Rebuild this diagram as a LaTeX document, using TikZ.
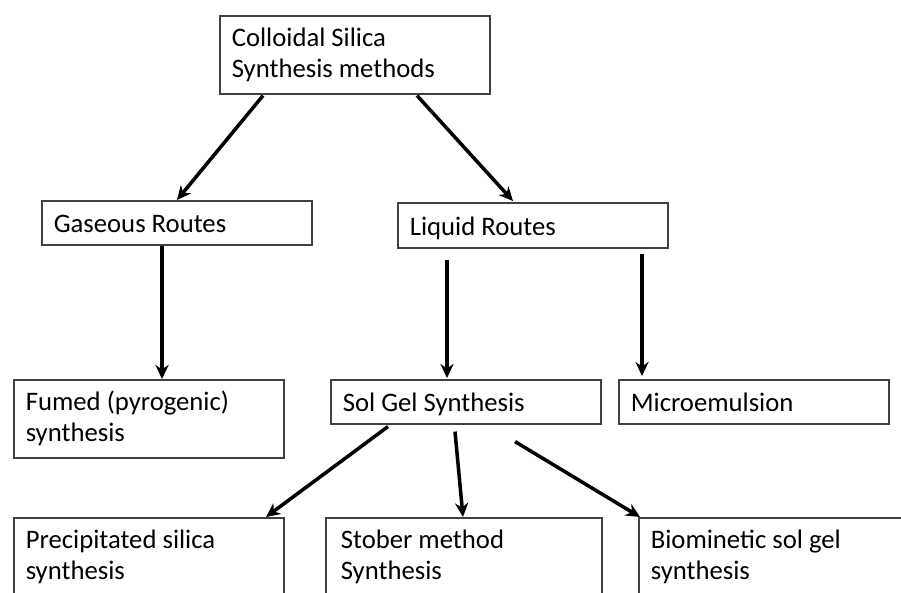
\documentclass[tikz,border=0pt]{standalone}
\usepackage{fontspec}
\setmainfont{Carlito}
\usetikzlibrary{arrows.meta,calc}

\tikzset{
    box/.style = {draw = black!75, line width = 0.9pt, anchor = north west,
        minimum width = 5.4cm, text width = 4.92cm, inner xsep = 0.24cm, inner ysep = 1pt,
        align = flush left, font = \fontsize{15.2}{17.6}\selectfont},
    onebox/.style = {box, minimum height = 0.88cm, text height = 13pt, text depth = 1.7pt},
    twobox/.style = {box, minimum height = 1.56cm},
    link/.style = {->, line width = 2pt}
}

\begin{document}
\begin{tikzpicture}[x = 0.02cm, y = -0.02cm, >={Stealth[length = 8pt, width = 7.5pt]}]
        \useasboundingbox (0, 0) rectangle (901, 592);
        \clip (0, 0) rectangle (901, 592);
        \node [twobox] (silica) at (219, 15) {Colloidal Silica\\Synthesis methods};
        \node [onebox] (gas) at (41, 200) {Gaseous Routes};
        \node [onebox, minimum height = 0.9cm] (liquid) at (397, 202) {Liquid Routes};
        \node [twobox] (fumed) at (13, 379) {Fumed (pyrogenic)\\synthesis};
        \node [onebox] (solgel) at (330, 379) {Sol Gel Synthesis};
        \node [onebox] (micro) at (618, 379) {Microemulsion};
        \node [twobox] (precip) at (13, 517) {Precipitated silica\\synthesis};
        \node [twobox, minimum width = 5.52cm] (stober) at (325, 517) {Stober method\\Synthesis};
        \node [twobox] (bio) at (638, 517) {Biominetic sol gel\\synthesis};
        \draw [link] ($(silica.south west) + (44, 1)$) -- ($(gas.north west) + (136, 0)$);
        \draw [link] ($(silica.south west) + (198, 1)$) -- ($(liquid.north west) + (116, -1)$);
        \draw [link] ($(gas.south west) + (121, 0)$) -- ($(fumed.north west) + (149, 0)$);
        \draw [link] ($(liquid.south west) + (50, 11)$) -- ($(solgel.north west) + (117, -1)$);
        \draw [link] ($(liquid.south west) + (245, 5)$) -- ($(micro.north west) + (24, -3)$);
        \draw [link] ($(solgel.south west) + (58, 2)$) -- ($(precip.north west) + (253, 0)$);
        \draw [link] ($(solgel.south west) + (125, 7)$) -- ($(stober.north west) + (138, 0)$);
        \draw [link] ($(solgel.south west) + (185, 17)$) -- ($(bio.north west) + (2, 0)$);
    \end{tikzpicture}
\end{document}
